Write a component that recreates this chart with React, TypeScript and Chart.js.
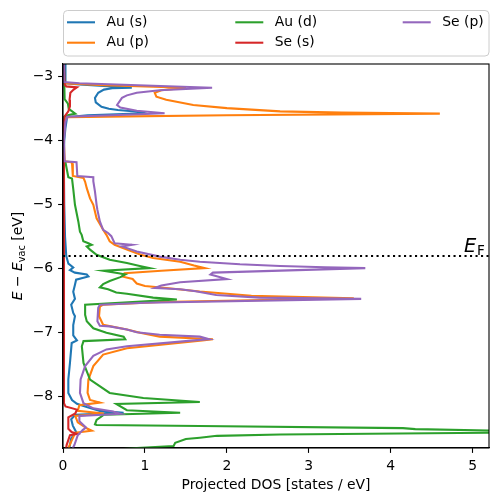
import React, { useEffect, useRef } from "react";
import { Chart, registerables } from "chart.js";
Chart.register(...registerables);

// [energy (eV), projected DOS (states/eV)]
const auS: number[][] = [
  [-2.8, 0.03], [-3.0, 0.03], [-3.1, 0.03], [-3.12, 0.2], [-3.17, 0.84], [-3.18, 0.6], [-3.2, 0.5], [-3.25, 0.43],
  [-3.33, 0.39], [-3.4, 0.4], [-3.47, 0.47], [-3.5, 0.56], [-3.52, 0.67], [-3.55, 0.95], [-3.57, 1.0], [-3.6, 0.3],
  [-3.63, 0.05], [-3.8, 0.03], [-4.0, 0.015], [-4.3, 0.01], [-5.0, 0.015], [-5.5, 0.025], [-5.8, 0.04],
  [-5.92, 0.066], [-5.98, 0.125], [-6.02, 0.085], [-6.06, 0.145], [-6.09, 0.29], [-6.12, 0.31], [-6.17, 0.16],
  [-6.25, 0.146], [-6.36, 0.125], [-6.47, 0.146], [-6.56, 0.1], [-6.69, 0.125], [-6.74, 0.146], [-6.88, 0.125],
  [-7.04, 0.125], [-7.12, 0.17], [-7.16, 0.106], [-7.47, 0.085], [-7.73, 0.065], [-7.94, 0.065], [-8.05, 0.11],
  [-8.11, 0.17], [-8.16, 0.29], [-8.22, 0.45], [-8.25, 0.74], [-8.28, 0.15], [-8.35, 0.1], [-8.45, 0.12],
  [-8.55, 0.16], [-8.65, 0.1], [-8.85, 0.07],
];

const auP: number[][] = [
  [-2.8, 0.005], [-3.1, 0.01], [-3.13, 0.5], [-3.17, 1.5], [-3.21, 1.2], [-3.25, 1.12], [-3.31, 1.14],
  [-3.36, 1.26], [-3.44, 1.59], [-3.49, 2.0], [-3.54, 2.65], [-3.56, 3.4], [-3.575, 4.6], [-3.6, 2.0], [-3.63, 0.05],
  [-3.7, 0.02], [-4.0, 0.01], [-4.32, 0.02], [-4.335, 0.1], [-4.35, 0.11], [-4.55, 0.12], [-4.58, 0.25],
  [-4.64, 0.27], [-4.74, 0.29], [-4.9, 0.33], [-5.0, 0.37], [-5.21, 0.41], [-5.39, 0.49], [-5.47, 0.53],
  [-5.57, 0.57], [-5.625, 0.63], [-5.7, 0.78], [-5.78, 0.95], [-5.83, 1.1], [-5.89, 1.43], [-5.95, 1.6], [-5.99, 1.73], [-6.03, 1.2],
  [-6.07, 0.75], [-6.12, 0.72], [-6.16, 0.85], [-6.23, 0.9], [-6.27, 1.0], [-6.3, 1.26], [-6.355, 1.67],
  [-6.42, 2.3], [-6.46, 3.55], [-6.52, 1.2], [-6.56, 0.49], [-6.59, 0.45], [-6.74, 0.44], [-6.875, 0.49],
  [-6.95, 0.78], [-7.0, 0.94], [-7.06, 1.18], [-7.1, 1.83], [-7.12, 1.7], [-7.24, 0.78], [-7.34, 0.49],
  [-7.52, 0.37], [-7.73, 0.31], [-7.94, 0.3], [-8.05, 0.33], [-8.09, 0.45], [-8.13, 0.2], [-8.22, 0.18],
  [-8.26, 0.5], [-8.3, 0.15], [-8.4, 0.18], [-8.5, 0.3], [-8.53, 0.35], [-8.56, 0.15], [-8.7, 0.1],
  [-8.85, 0.05],
];

const auD: number[][] = [
  [-2.8, 0.01], [-3.35, 0.02], [-3.42, 0.06], [-3.5, 0.07], [-3.575, 0.15], [-3.6, 0.06], [-3.63, 0.01],
  [-4.3, 0.01], [-4.335, 0.03], [-4.57, 0.065], [-4.59, 0.11], [-4.75, 0.125], [-5.0, 0.146], [-5.26, 0.187],
  [-5.42, 0.207], [-5.47, 0.228], [-5.57, 0.248], [-5.6, 0.31], [-5.625, 0.35], [-5.65, 0.29], [-5.7, 0.33],
  [-5.78, 0.41], [-5.86, 0.57], [-5.91, 0.78], [-5.96, 0.95], [-5.99, 1.06], [-6.03, 0.49], [-6.07, 0.68],
  [-6.09, 0.76], [-6.13, 0.7], [-6.19, 0.57], [-6.24, 0.49], [-6.29, 0.45], [-6.32, 0.55], [-6.37, 0.65],
  [-6.39, 0.78], [-6.45, 1.1], [-6.48, 1.39], [-6.56, 0.27], [-6.72, 0.27], [-6.82, 0.29], [-6.93, 0.37],
  [-7.0, 0.53], [-7.06, 0.74], [-7.1, 0.76], [-7.13, 0.25], [-7.21, 0.23], [-7.47, 0.25], [-7.73, 0.33],
  [-7.94, 0.57], [-8.02, 0.98], [-8.08, 1.67], [-8.11, 0.65], [-8.21, 0.78], [-8.25, 1.43], [-8.28, 0.5],
  [-8.36, 0.41], [-8.43, 0.39], [-8.44, 0.41], [-8.455, 1.67], [-8.49, 4.15], [-8.505, 4.3], [-8.53, 5.3],
  [-8.545, 6.0], [-8.56, 5.3], [-8.59, 2.65], [-8.61, 1.88], [-8.64, 1.67], [-8.66, 1.5], [-8.72, 1.37],
  [-8.77, 1.35], [-8.8, 0.9], [-8.86, 0.3],
];

const seS: number[][] = [
  [-2.8, 0.012], [-3.12, 0.02], [-3.15, 0.04], [-3.165, 0.17], [-3.2, 0.13], [-3.25, 0.09], [-3.36, 0.08],
  [-3.46, 0.085], [-3.54, 0.065], [-3.62, 0.02], [-3.7, 0.01], [-8.1, 0.012], [-8.15, 0.03], [-8.2, 0.17],
  [-8.26, 0.15], [-8.32, 0.065], [-8.5, 0.065], [-8.55, 0.105], [-8.58, 0.17], [-8.6, 0.085], [-8.75, 0.045],
  [-8.85, 0.03],
];

const seP: number[][] = [
  [-2.8, 0.005], [-3.08, 0.01], [-3.1, 0.2], [-3.17, 1.82], [-3.21, 1.18], [-3.25, 0.9], [-3.29, 0.78], [-3.33, 0.72],
  [-3.44, 0.66], [-3.48, 0.7], [-3.53, 0.9], [-3.57, 1.24], [-3.6, 0.6], [-3.625, 0.05], [-3.7, 0.03],
  [-4.0, 0.01], [-4.32, 0.02], [-4.335, 0.165], [-4.55, 0.175], [-4.57, 0.37], [-4.63, 0.37], [-4.79, 0.39],
  [-5.0, 0.41], [-5.08, 0.42], [-5.26, 0.45], [-5.39, 0.49], [-5.44, 0.55], [-5.49, 0.59], [-5.6, 0.63],
  [-5.625, 0.84], [-5.65, 0.72], [-5.73, 0.9], [-5.81, 1.18], [-5.86, 1.43], [-5.89, 1.67], [-5.93, 2.16],
  [-5.955, 2.65], [-5.975, 3.2], [-5.99, 3.69],
  [-6.06, 1.83], [-6.09, 1.8], [-6.16, 2.0], [-6.21, 1.43], [-6.26, 1.2], [-6.3, 1.12], [-6.32, 1.43],
  [-6.35, 1.62], [-6.41, 1.87], [-6.45, 2.4], [-6.47, 3.64], [-6.53, 1.0], [-6.56, 0.45], [-6.61, 0.43],
  [-6.82, 0.42], [-6.89, 0.45], [-6.9, 0.57], [-6.95, 0.78], [-6.99, 0.9], [-7.03, 1.18], [-7.06, 1.67],
  [-7.1, 1.78], [-7.11, 1.67], [-7.21, 0.78], [-7.26, 0.53], [-7.36, 0.37], [-7.52, 0.27], [-7.73, 0.215],
  [-7.94, 0.207], [-8.1, 0.25], [-8.18, 0.37], [-8.23, 0.61], [-8.265, 0.7], [-8.3, 0.2], [-8.38, 0.2],
  [-8.48, 0.28], [-8.52, 0.24], [-8.6, 0.18], [-8.75, 0.14], [-8.85, 0.1],
];

const SERIES_LABELS = ["Au (s)", "Au (p)", "Au (d)", "Se (s)", "Se (p)"];
const SERIES_COLORS = ["#1f77b4", "#ff7f0e", "#2ca02c", "#d62728", "#9467bd"];
const SERIES_DATA = [auS, auP, auD, seS, seP];

const X_TICKS = [0, 1, 2, 3, 4, 5];
const Y_TICKS = [-3, -4, -5, -6, -7, -8];
const X_RANGE = [0, 5.2];
const Y_RANGE = [-8.8, -2.8];
const E_FERMI = -5.8;

const FONT = '"DejaVu Sans", sans-serif';

const fmt = (v: number) => (v < 0 ? "\u2212" + Math.abs(v) : String(v));

export default function App() {
  const ref = useRef<HTMLCanvasElement>(null);

  useEffect(() => {
    const canvas = ref.current;
    if (!canvas) return;

    const datasets: any[] = SERIES_DATA.map((pts, i) => ({
      label: SERIES_LABELS[i],
      data: pts.map(([e, d]) => ({ x: d, y: e })),
      borderColor: SERIES_COLORS[i],
      backgroundColor: SERIES_COLORS[i],
      borderWidth: 2.08,
      pointRadius: 0,
      showLine: true,
      fill: false,
      tension: 0,
      order: 10 - i,
      clip: 0,
    }));
    datasets.push({
      label: "E_F",
      data: [
        { x: X_RANGE[0], y: E_FERMI },
        { x: X_RANGE[1], y: E_FERMI },
      ],
      borderColor: "#000",
      borderWidth: 2.08,
      borderDash: [2.1, 3.4],
      pointRadius: 0,
      showLine: true,
      fill: false,
      order: 0,
      clip: 0,
    });

    const deco = {
      id: "deco",
      afterDraw(chart: any) {
        const c: CanvasRenderingContext2D = chart.ctx;
        const a = chart.chartArea;
        c.save();
        c.strokeStyle = "#000";
        c.lineWidth = 1.1;
        c.strokeRect(a.left, a.top, a.right - a.left, a.bottom - a.top);

        c.fillStyle = "#000";
        const yF = chart.scales.y.getPixelForValue(E_FERMI);
        c.textAlign = "left";
        c.textBaseline = "alphabetic";
        c.font = `italic 19.4px ${FONT}`;
        c.fillText("E", 464, yF - 4.3);
        c.font = `13.6px ${FONT}`;
        c.fillText("F", 477, yF - 1);

        c.font = `13.9px ${FONT}`;
        c.textAlign = "center";
        c.fillText("Projected DOS [states / eV]", (a.left + a.right) / 2, 489);

        const segs = [
          { t: "E", f: `italic 13.9px ${FONT}`, dy: 0 },
          { t: " \u2212 ", f: `13.9px ${FONT}`, dy: 0 },
          { t: "E", f: `italic 13.9px ${FONT}`, dy: 0 },
          { t: "vac", f: `9.7px ${FONT}`, dy: 3 },
          { t: " [eV]", f: `13.9px ${FONT}`, dy: 0 },
        ];
        let total = 0;
        const widths = segs.map((s) => {
          c.font = s.f;
          const w = c.measureText(s.t).width;
          total += w;
          return w;
        });
        c.save();
        c.translate(22, (a.top + a.bottom) / 2);
        c.rotate(-Math.PI / 2);
        c.textAlign = "left";
        let x = -total / 2;
        segs.forEach((s, i) => {
          c.font = s.f;
          c.fillText(s.t, x, s.dy);
          x += widths[i];
        });
        c.restore();

        const bx = 63.5, by = 10.5, bw = 425.5, bh = 45.5, r = 4;
        c.beginPath();
        c.moveTo(bx + r, by);
        c.lineTo(bx + bw - r, by);
        c.arcTo(bx + bw, by, bx + bw, by + r, r);
        c.lineTo(bx + bw, by + bh - r);
        c.arcTo(bx + bw, by + bh, bx + bw - r, by + bh, r);
        c.lineTo(bx + r, by + bh);
        c.arcTo(bx, by + bh, bx, by + bh - r, r);
        c.lineTo(bx, by + r);
        c.arcTo(bx, by, bx + r, by, r);
        c.closePath();
        c.fillStyle = "rgba(255,255,255,0.8)";
        c.fill();
        c.strokeStyle = "#cccccc";
        c.lineWidth = 1;
        c.stroke();

        const colX = [67, 235.3, 402.7];
        const rowY = [22.3, 42.7];
        SERIES_LABELS.forEach((lab, i) => {
          const col = Math.floor(i / 2);
          const row = i % 2;
          const x0 = colX[col];
          const y0 = rowY[row];
          c.strokeStyle = SERIES_COLORS[i];
          c.lineWidth = 2.08;
          c.beginPath();
          c.moveTo(x0, y0);
          c.lineTo(x0 + 28, y0);
          c.stroke();
          c.fillStyle = "#000";
          c.font = `13.9px ${FONT}`;
          c.textAlign = "left";
          c.textBaseline = "middle";
          c.fillText(lab, x0 + 39.5, y0);
        });
        c.restore();
      },
    };

    const tickCommon = {
      color: "#000",
      font: { family: "DejaVu Sans", size: 13.9 },
      padding: 4.9,
      autoSkip: false,
      maxRotation: 0,
      minRotation: 0,
      callback: (v: any) => fmt(Number(v)),
    };
    const gridCommon = {
      display: true,
      drawOnChartArea: false,
      drawTicks: true,
      tickLength: 4.9,
      tickWidth: 1.1,
      tickColor: "#000",
    };

    const chart = new Chart(canvas, {
      type: "scatter",
      data: { datasets },
      plugins: [deco],
      options: {
        responsive: false,
        animation: false,
        devicePixelRatio: 1,
        layout: { padding: { top: 64, right: 9, left: 0, bottom: 0 } },
        plugins: { legend: { display: false }, tooltip: { enabled: false }, title: { display: false } },
        scales: {
          x: {
            type: "linear",
            min: X_RANGE[0],
            max: X_RANGE[1],
            afterBuildTicks: (s: any) => {
              s.ticks = X_TICKS.map((v) => ({ value: v }));
            },
            afterFit: (s: any) => {
              s.height = 54;
            },
            ticks: tickCommon,
            grid: gridCommon,
            border: { display: true, color: "#000", width: 1.1 },
          },
          y: {
            type: "linear",
            min: Y_RANGE[0],
            max: Y_RANGE[1],
            afterBuildTicks: (s: any) => {
              s.ticks = Y_TICKS.map((v) => ({ value: v }));
            },
            afterFit: (s: any) => {
              s.width = 63;
            },
            ticks: tickCommon,
            grid: gridCommon,
            border: { display: true, color: "#000", width: 1.1 },
          },
        },
      } as any,
    });
    return () => chart.destroy();
  }, []);

  return (
    <div style={{ position: "fixed", left: 0, top: 0, width: 498, height: 502, background: "#fff" }}>
      <canvas ref={ref} width={498} height={502} style={{ display: "block" }} />
    </div>
  );
}
